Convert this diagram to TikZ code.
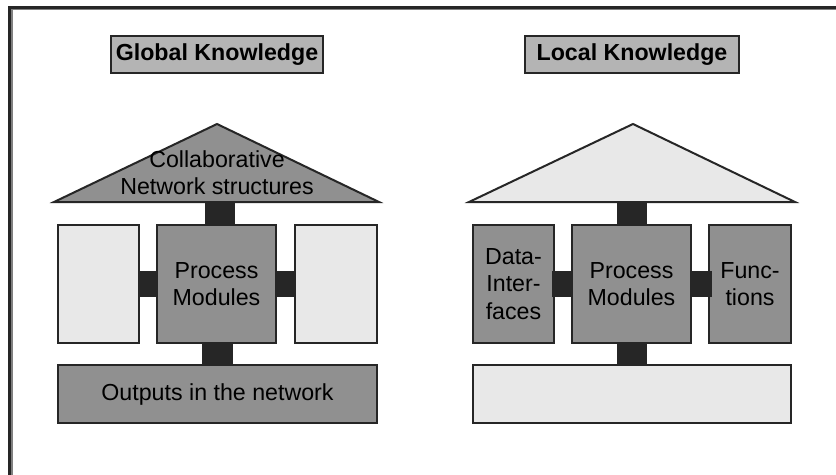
\documentclass[tikz,border=0pt]{standalone}
\usepackage{fontspec}
\setmainfont{Liberation Sans}
\usetikzlibrary{calc}
\definecolor{ink}{HTML}{262626}
\definecolor{dark}{HTML}{909090}
\definecolor{light}{HTML}{E8E8E8}
\definecolor{title}{HTML}{B4B4B4}
\definecolor{rim}{HTML}{808080}
\tikzset{
  box/.style={draw=ink, line width=1.5pt, rectangle, inner sep=0pt, align=center,
    font=\fontsize{17.4}{20.5}\selectfont},
  darkbox/.style={box, fill=dark},
  lightbox/.style={box, fill=light},
  titlebox/.style={box, fill=title, font=\fontsize{17.4}{20.5}\selectfont\bfseries},
  roof/.style={draw=ink, line width=1.5pt, line join=miter},
  conn/.style={fill=ink},
  label/.style={inner sep=0pt, align=center, font=\fontsize{17.4}{20.5}\selectfont}
}
\begin{document}
\begin{tikzpicture}[x=0.75pt, y=-0.75pt]
\useasboundingbox (0,0) rectangle (836,475);
\fill[white] (0,0) rectangle (836,475);

% outer frame (top and left edges)
\draw[rim, line width=1.5pt] (11.5,475) -- (11.5,9) -- (836,9);
\draw[ink, line width=2.25pt] (9.5,475) -- (9.5,7) -- (836,7);

% ---------- Global knowledge ----------
\node[titlebox, minimum width={212*0.75pt}, minimum height={37*0.75pt}] (gTitle) at (217,54.5) {Global Knowledge};

\draw[roof, fill=dark] (54,202) -- (217,124) -- (379,202) -- cycle;
\coordinate (gRoof) at (217,202);
\node[label] (gRoofText) at (217,173) {Collaborative\\Network structures};

\node[lightbox, minimum width={81*0.75pt}, minimum height={118*0.75pt}] (gL) at (98.5,284) {};
\node[darkbox, minimum width={119*0.75pt}, minimum height={118*0.75pt}] (gC) at (216.5,284) {Process\\Modules};
\node[lightbox, minimum width={82*0.75pt}, minimum height={118*0.75pt}] (gR) at (336,284) {};
\node[darkbox, minimum width={319*0.75pt}, minimum height={58*0.75pt}] (gOut) at (217.5,394) {Outputs in the network};

\fill[conn] ($(gRoof)+(-12,0)$) rectangle ($(gC.north)+(18,1)$);
\fill[conn] ($(gL.east)+(-2,-13)$) rectangle ($(gC.west)+(1,13)$);
\fill[conn] ($(gC.east)+(-2,-13)$) rectangle ($(gR.west)+(2,13)$);
\fill[conn] ($(gC.south)+(-14.5,-1)$) rectangle ($(gOut.north)+(15.5,1)$);

% ---------- Local knowledge ----------
\node[titlebox, minimum width={214*0.75pt}, minimum height={37*0.75pt}] (lTitle) at (632,54.5) {Local Knowledge};

\draw[roof, fill=light] (469,202) -- (633,124) -- (795,202) -- cycle;
\coordinate (lRoof) at (632,202);

\node[darkbox, minimum width={81*0.75pt}, minimum height={118*0.75pt}] (lL) at (513.5,284) {Data-\\Inter-\\faces};
\node[darkbox, minimum width={119*0.75pt}, minimum height={118*0.75pt}] (lC) at (631.5,284) {Process\\Modules};
\node[darkbox, minimum width={82*0.75pt}, minimum height={118*0.75pt}] (lR) at (750,284) {Func-\\tions};
\node[lightbox, minimum width={318*0.75pt}, minimum height={58*0.75pt}] (lOut) at (632,394) {};

\fill[conn] ($(lRoof)+(-15,0)$) rectangle ($(lC.north)+(15.5,1)$);
\fill[conn] ($(lL.east)+(-3,-13)$) rectangle ($(lC.west)+(1,13)$);
\fill[conn] ($(lC.east)+(-1,-13)$) rectangle ($(lR.west)+(4,13)$);
\fill[conn] ($(lC.south)+(-14.5,-1)$) rectangle ($(lOut.north)+(15,1)$);
\end{tikzpicture}
\end{document}
